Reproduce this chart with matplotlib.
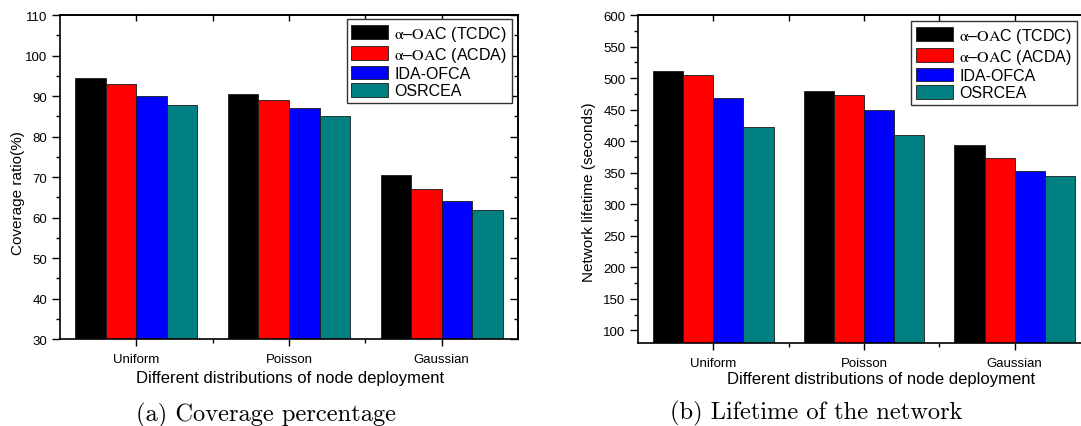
import matplotlib.pyplot as plt
import numpy as np

plt.rcParams['font.family'] = ['Liberation Sans', 'DejaVu Sans']
plt.rcParams['mathtext.fontset'] = 'stix'

categories = ['Uniform', 'Poisson', 'Gaussian']
methods = [r'$\mathrm{\alpha}$–$\mathrm{OA}$C (TCDC)', r'$\mathrm{\alpha}$–$\mathrm{OA}$C (ACDA)',
           'IDA-OFCA', 'OSRCEA']
colors = ['#000000', '#ff0000', '#0000ff', '#008080']

# coverage ratio (%)
cov_tcdc = [94.5, 90.6, 70.6]
cov_acda = [93.0, 89.0, 67.0]
cov_idaofca = [90.0, 87.0, 64.0]
cov_osrcea = [87.8, 85.0, 61.9]

# network lifetime (seconds)
life_tcdc = [512, 480, 394]
life_acda = [505, 473, 374]
life_idaofca = [468, 450, 352]
life_osrcea = [423, 410, 344]


def draw_bars(ax, series):
    x = np.arange(1, len(categories) + 1)
    w = 0.2
    for k, (vals, lab, c) in enumerate(zip(series, methods, colors)):
        ax.bar(x + (k - 1.5) * w, vals, width=w, color=c, edgecolor='#1a1a1a',
               linewidth=0.6, label=lab)
    ax.set_xticks(x, categories)
    ax.set_xticks([1.5, 2.5], minor=True)
    ax.tick_params(axis='x', which='major', direction='out', length=5, width=1, labelsize=9.5, pad=5)
    ax.tick_params(axis='x', which='minor', direction='out', length=3, width=1)
    ax.tick_params(axis='y', which='major', direction='out', length=6, width=1, labelsize=9.5, pad=3)
    ax.tick_params(axis='y', which='minor', direction='out', length=3, width=1)
    for s in ax.spines.values():
        s.set_linewidth(1.2)

    # inward ticks on the top and right frame
    top = ax.secondary_xaxis('top')
    top.set_xticks([1, 1.5, 2, 2.5, 3])
    top.tick_params(direction='in', length=4, width=1, labeltop=False)
    top.spines['top'].set_linewidth(1.2)
    right = ax.secondary_yaxis('right')
    right.set_yticks(ax.get_yticks())
    right.yaxis.set_minor_locator(ax.yaxis.get_minor_locator())
    right.tick_params(which='major', direction='in', length=6, width=1, labelright=False)
    right.tick_params(which='minor', direction='in', length=3, width=1)
    right.spines['right'].set_linewidth(1.2)


def add_legend(ax, anchor):
    leg = ax.legend(loc='upper right', bbox_to_anchor=anchor, borderaxespad=0,
                    fontsize=11.5, fancybox=False, edgecolor='#333333', framealpha=1,
                    handlelength=2.3, handleheight=0.95, labelspacing=0.12,
                    handletextpad=0.4, borderpad=0.3)
    leg.get_frame().set_linewidth(1.0)


fig = plt.figure(figsize=(10.81, 4.27), dpi=100)

ax1 = fig.add_axes([0.0555, 0.2037, 0.4237, 0.7588])
ax1.set_ylim(30, 110)
ax1.set_yticks(np.arange(30, 111, 10))
ax1.set_yticks(np.arange(30, 111, 5), minor=True)
ax1.set_xlim(0.5, 3.5)
draw_bars(ax1, [cov_tcdc, cov_acda, cov_idaofca, cov_osrcea])
ax1.set_ylabel('Coverage ratio(%)', fontsize=11)
ax1.yaxis.set_label_coords(-0.076, 0.454)
ax1.set_xlabel('Different distributions of node deployment', fontsize=12)
ax1.xaxis.set_label_coords(0.502, -0.097)
add_legend(ax1, (0.987, 0.988))

ax2 = fig.add_axes([0.5902, 0.1944, 0.4181, 0.7681])
ax2.set_ylim(80, 600)
ax2.set_yticks(np.arange(100, 601, 50))
ax2.set_yticks(np.arange(100, 601, 25), minor=True)
ax2.set_xlim(0.5, 3.5)
draw_bars(ax2, [life_tcdc, life_acda, life_idaofca, life_osrcea])
ax2.set_ylabel('Network lifetime (seconds)', fontsize=11)
ax2.yaxis.set_label_coords(-0.093, 0.463)
ax2.set_xlabel('Different distributions of node deployment', fontsize=12)
ax2.xaxis.set_label_coords(0.538, -0.086)
add_legend(ax2, (0.971, 0.982))

fig.text(266 / 1081, 1 - 415 / 427, '(a) Coverage percentage', fontfamily='cmr10',
         fontsize=17.6, ha='center', va='center')
fig.text(816 / 1081, 1 - 413 / 427, '(b) Lifetime of the network', fontfamily='cmr10',
         fontsize=17.6, ha='center', va='center')

fig.savefig('out.png', dpi=100)
